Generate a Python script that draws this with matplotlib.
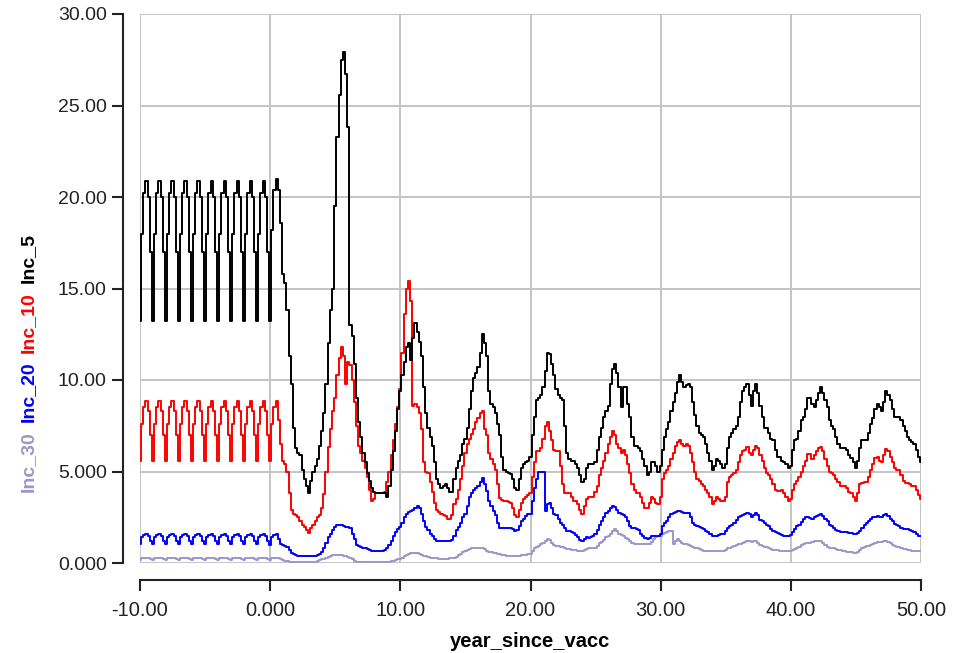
import numpy as np
import matplotlib
matplotlib.use('Agg')
import matplotlib.pyplot as plt
from matplotlib.ticker import FuncFormatter

plt.rcParams['font.family'] = ['Liberation Sans', 'DejaVu Sans']

# time axis: 6 samples per year from -10 to 50
years = np.arange(-60, 301) / 6.0

# Inc_5 (black), one row per year, values read at 1/6-year steps
inc_5_rows = [
    [13.2, 18.0, 20.2, 20.9, 20.0, 17.0],  # -10
    [13.2, 18.0, 20.2, 20.9, 20.0, 17.0],
    [13.2, 18.0, 20.2, 20.9, 20.0, 17.0],
    [13.2, 18.0, 20.2, 20.9, 20.0, 17.0],
    [13.2, 18.0, 20.2, 20.9, 20.0, 17.0],
    [13.2, 18.0, 20.2, 20.9, 20.0, 17.0],
    [13.2, 18.0, 20.2, 20.9, 20.0, 17.0],
    [13.2, 18.0, 20.2, 20.9, 20.0, 17.0],
    [13.2, 18.0, 20.2, 20.9, 20.0, 17.0],
    [13.2, 18.0, 20.2, 20.9, 20.0, 17.0],  # -1
    [13.2, 18.2, 20.4, 21.0, 20.4, 18.6],  # 0
    [15.8, 15.3, 13.8, 11.3, 9.8, 7.4],
    [6.3, 6.0, 5.9, 5.1, 4.6, 4.2],
    [3.8, 4.5, 5.0, 5.3, 5.7, 6.4],
    [7.2, 8.2, 9.8, 12.0, 13.8, 15.0],
    [19.5, 23.3, 25.6, 27.5, 27.9, 26.7],  # 5
    [23.8, 13.0, 12.4, 10.9, 9.0, 7.7],
    [6.9, 6.0, 5.5, 4.9, 4.5, 4.1],
    [3.9, 3.8, 3.8, 3.8, 3.8, 3.8],
    [3.6, 4.2, 5.1, 6.1, 7.2, 8.4],
    [9.4, 10.3, 11.0, 11.8, 12.0, 11.1],  # 10
    [12.3, 13.1, 12.6, 12.1, 11.3, 9.6],
    [8.2, 7.4, 6.9, 6.4, 5.5, 4.6],
    [4.3, 4.1, 4.2, 4.3, 4.1, 3.9],
    [3.9, 4.6, 5.2, 5.6, 5.9, 6.5],
    [6.8, 7.4, 8.4, 9.4, 10.1, 10.4],  # 15
    [10.7, 11.5, 12.5, 12.0, 11.3, 9.4],
    [8.7, 8.5, 8.2, 7.6, 7.0, 5.8],
    [5.1, 5.0, 4.9, 4.85, 4.6, 4.1],
    [4.0, 4.6, 5.2, 5.4, 5.5, 5.6],
    [5.8, 7.0, 8.0, 8.9, 9.0, 9.2],  # 20
    [9.6, 10.5, 11.5, 11.4, 10.9, 10.3],
    [9.5, 9.2, 9.0, 8.9, 7.5, 6.0],
    [5.7, 5.6, 5.6, 5.4, 5.2, 4.8],
    [4.4, 4.6, 5.2, 5.4, 5.4, 5.4],
    [5.5, 6.2, 6.9, 7.4, 8.0, 8.3],  # 25
    [8.6, 9.8, 10.6, 10.9, 10.4, 9.6],
    [8.5, 9.6, 9.6, 8.7, 8.0, 6.9],
    [6.4, 6.4, 6.3, 6.1, 5.7, 5.3],
    [4.8, 5.0, 5.5, 5.5, 5.3, 5.0],
    [5.3, 6.2, 6.9, 7.3, 7.7, 8.3],  # 30
    [8.8, 9.3, 9.9, 10.3, 9.9, 9.6],
    [9.7, 9.8, 9.6, 8.8, 8.1, 7.5],
    [7.1, 7.0, 6.9, 6.5, 6.0, 5.6],
    [5.1, 5.3, 5.7, 5.6, 5.4, 5.2],
    [5.4, 6.3, 6.9, 7.1, 7.3, 7.5],  # 35
    [8.0, 8.8, 9.4, 9.6, 9.8, 9.2],
    [8.6, 9.4, 9.8, 9.3, 8.6, 8.0],
    [7.4, 7.4, 7.1, 6.8, 6.7, 6.2],
    [5.8, 5.8, 5.6, 5.5, 5.4, 5.2],
    [5.3, 6.2, 6.7, 6.8, 7.2, 7.8],  # 40
    [8.0, 8.4, 9.0, 9.0, 8.7, 8.5],
    [8.9, 9.3, 9.6, 9.3, 8.9, 8.5],
    [7.8, 7.5, 7.3, 6.9, 6.5, 6.3],
    [6.3, 6.3, 6.2, 5.9, 5.75, 5.5],
    [5.2, 5.6, 6.3, 6.7, 6.7, 6.7],  # 45
    [7.1, 7.6, 7.9, 8.4, 8.7, 8.5],
    [8.3, 8.8, 9.4, 9.2, 8.9, 8.4],
    [8.0, 8.0, 8.0, 7.8, 7.5, 7.2],
    [6.9, 6.7, 6.6, 6.5, 6.2, 5.8],
    [5.5],  # 50
]

# Inc_10 (red)
inc_10_rows = [
    [5.6, 7.6, 8.5, 8.85, 8.3, 7.0],  # -10
    [5.6, 7.6, 8.5, 8.85, 8.3, 7.0],
    [5.6, 7.6, 8.5, 8.85, 8.3, 7.0],
    [5.6, 7.6, 8.5, 8.85, 8.3, 7.0],
    [5.6, 7.6, 8.5, 8.85, 8.3, 7.0],
    [5.6, 7.6, 8.5, 8.85, 8.3, 7.0],
    [5.6, 7.6, 8.5, 8.85, 8.3, 7.0],
    [5.6, 7.6, 8.5, 8.85, 8.3, 7.0],
    [5.6, 7.6, 8.5, 8.85, 8.3, 7.0],
    [5.6, 7.6, 8.5, 8.85, 8.3, 7.0],  # -1
    [5.6, 7.6, 8.5, 8.85, 7.8, 6.5],  # 0
    [5.6, 5.4, 5.0, 3.8, 2.9, 2.7],
    [2.6, 2.5, 2.3, 2.1, 1.95, 1.8],
    [1.66, 1.9, 2.1, 2.3, 2.5, 2.6],
    [3.0, 3.75, 5.0, 6.35, 7.3, 8.3],
    [9.0, 10.3, 11.2, 11.8, 11.3, 9.8],  # 5
    [11.0, 10.8, 10.0, 8.8, 7.5, 6.4],
    [6.0, 5.6, 5.2, 4.7, 4.0, 3.4],
    [3.5, 3.8, 3.8, 3.8, 3.8, 3.9],
    [4.4, 5.0, 5.9, 6.7, 7.6, 8.5],
    [9.5, 11.5, 13.6, 15.0, 15.4, 14.3],  # 10
    [8.6, 8.7, 8.5, 8.2, 7.3, 5.5],
    [5.0, 4.9, 4.4, 3.9, 3.3, 2.9],
    [2.8, 2.7, 2.65, 2.55, 2.4, 2.4],
    [2.6, 3.2, 3.5, 4.0, 4.6, 5.3],
    [6.0, 6.5, 6.8, 7.05, 7.3, 7.7],  # 15
    [7.9, 8.2, 8.3, 7.3, 7.0, 6.0],
    [5.7, 5.4, 5.1, 4.3, 3.55, 3.45],
    [3.4, 3.4, 3.35, 3.3, 3.0, 2.6],
    [2.5, 2.9, 3.3, 3.5, 3.6, 3.7],
    [3.8, 4.7, 5.5, 6.1, 6.1, 6.3],  # 20
    [6.8, 7.5, 7.7, 7.2, 6.7, 6.2],
    [6.1, 6.1, 5.3, 4.3, 3.8, 3.8],
    [3.8, 3.6, 3.4, 3.4, 3.2, 2.9],
    [2.7, 3.1, 3.5, 3.6, 3.6, 3.6],
    [3.9, 4.2, 4.8, 5.2, 5.6, 6.0],  # 25
    [6.5, 6.9, 7.2, 7.0, 6.5, 6.3],
    [6.0, 6.2, 5.9, 5.4, 4.9, 4.3],
    [4.0, 3.8, 3.8, 3.6, 3.3, 3.0],
    [3.0, 3.3, 3.6, 3.5, 3.3, 3.2],
    [3.6, 4.6, 4.9, 5.1, 5.3, 5.7],  # 30
    [6.0, 6.4, 6.6, 6.7, 6.5, 6.4],
    [6.5, 6.4, 6.0, 5.5, 5.0, 4.6],
    [4.5, 4.3, 4.2, 4.0, 3.8, 3.6],
    [3.2, 3.4, 3.6, 3.5, 3.4, 3.4],
    [3.6, 4.4, 4.7, 4.8, 4.9, 5.1],  # 35
    [5.5, 5.9, 6.1, 6.2, 6.35, 6.0],
    [5.9, 6.2, 6.4, 6.3, 5.9, 5.6],
    [5.2, 4.9, 4.8, 4.6, 4.3, 4.0],
    [3.95, 3.95, 4.0, 3.8, 3.6, 3.4],
    [3.5, 4.0, 4.3, 4.5, 4.7, 5.0],  # 40
    [5.3, 5.6, 5.95, 5.95, 5.7, 5.9],
    [6.1, 6.3, 6.35, 6.1, 5.7, 5.3],
    [5.0, 4.9, 4.8, 4.6, 4.4, 4.2],
    [4.2, 4.2, 4.1, 3.9, 3.8, 3.6],
    [3.4, 3.8, 4.3, 4.35, 4.4, 4.4],  # 45
    [4.7, 5.1, 5.4, 5.75, 5.8, 5.6],
    [5.5, 5.9, 6.25, 6.1, 5.8, 5.5],
    [5.2, 5.1, 5.1, 4.8, 4.5, 4.35],
    [4.35, 4.3, 4.2, 4.2, 4.0, 3.7],
    [3.5],  # 50
]

# Inc_20 (blue)
inc_20_rows = [
    [1.02, 1.4, 1.55, 1.6, 1.45, 1.2],  # -10
    [1.02, 1.4, 1.55, 1.6, 1.45, 1.2],
    [1.02, 1.4, 1.55, 1.6, 1.45, 1.2],
    [1.02, 1.4, 1.55, 1.6, 1.45, 1.2],
    [1.02, 1.4, 1.55, 1.6, 1.45, 1.2],
    [1.02, 1.4, 1.55, 1.6, 1.45, 1.2],
    [1.02, 1.4, 1.55, 1.6, 1.45, 1.2],
    [1.02, 1.4, 1.55, 1.6, 1.45, 1.2],
    [1.02, 1.4, 1.55, 1.6, 1.45, 1.2],
    [1.02, 1.4, 1.55, 1.6, 1.45, 1.2],  # -1
    [1.0, 1.4, 1.55, 1.57, 1.3, 1.05],  # 0
    [1.0, 0.95, 0.85, 0.7, 0.55, 0.48],
    [0.42, 0.4, 0.38, 0.38, 0.38, 0.38],
    [0.38, 0.38, 0.38, 0.4, 0.45, 0.48],
    [0.6, 0.84, 1.1, 1.4, 1.6, 1.8],
    [1.95, 2.05, 2.1, 2.1, 2.0, 1.95],  # 5
    [1.95, 1.9, 1.6, 1.3, 1.0, 0.95],
    [0.9, 0.84, 0.8, 0.75, 0.7, 0.66],
    [0.66, 0.66, 0.66, 0.66, 0.66, 0.7],
    [0.8, 1.0, 1.2, 1.45, 1.7, 1.85],
    [1.95, 2.2, 2.5, 2.7, 2.8, 2.85],  # 10
    [2.9, 3.0, 3.1, 3.0, 2.7, 2.3],
    [1.95, 1.8, 1.6, 1.5, 1.3, 1.2],
    [1.2, 1.2, 1.2, 1.2, 1.2, 1.2],
    [1.25, 1.5, 1.8, 1.95, 2.2, 2.5],
    [2.7, 3.1, 3.6, 3.8, 4.0, 4.1],  # 15
    [4.2, 4.4, 4.65, 4.3, 3.95, 3.4],
    [3.1, 2.85, 2.6, 2.2, 1.93, 1.9],
    [1.93, 1.93, 1.93, 1.9, 1.85, 1.75],
    [1.8, 2.0, 2.3, 2.4, 2.55, 2.66],
    [2.7, 3.4, 4.1, 4.6, 5.0, 5.0],  # 20
    [5.0, 2.85, 3.2, 3.3, 3.0, 2.7],
    [2.6, 2.4, 2.2, 2.1, 1.9, 1.75],
    [1.75, 1.7, 1.65, 1.55, 1.4, 1.25],
    [1.2, 1.3, 1.4, 1.35, 1.4, 1.5],
    [1.6, 1.8, 2.1, 2.3, 2.5, 2.75],  # 25
    [2.85, 3.0, 3.1, 3.05, 2.9, 2.75],
    [2.7, 2.6, 2.5, 2.3, 2.0, 1.93],
    [1.9, 1.85, 1.8, 1.6, 1.45, 1.35],
    [1.3, 1.35, 1.45, 1.45, 1.45, 1.45],
    [1.6, 2.0, 2.2, 2.3, 2.5, 2.7],  # 30
    [2.75, 2.8, 2.85, 2.85, 2.8, 2.75],
    [2.75, 2.75, 2.5, 2.2, 2.1, 2.0],
    [1.95, 1.9, 1.85, 1.75, 1.7, 1.6],
    [1.5, 1.48, 1.5, 1.55, 1.6, 1.6],
    [1.75, 1.93, 2.0, 2.1, 2.2, 2.35],  # 35
    [2.5, 2.55, 2.6, 2.7, 2.75, 2.7],
    [2.5, 2.65, 2.75, 2.6, 2.35, 2.3],
    [2.2, 2.1, 2.0, 1.85, 1.75, 1.7],
    [1.65, 1.6, 1.55, 1.5, 1.5, 1.48],
    [1.55, 1.7, 1.85, 2.0, 2.1, 2.25],  # 40
    [2.4, 2.5, 2.5, 2.45, 2.4, 2.5],
    [2.55, 2.62, 2.66, 2.55, 2.4, 2.3],
    [2.1, 2.0, 1.9, 1.8, 1.75, 1.7],
    [1.7, 1.7, 1.7, 1.65, 1.62, 1.6],
    [1.57, 1.65, 1.75, 1.9, 2.1, 2.2],  # 45
    [2.3, 2.4, 2.5, 2.5, 2.55, 2.5],
    [2.5, 2.6, 2.66, 2.55, 2.4, 2.3],
    [2.15, 2.1, 2.0, 1.9, 1.85, 1.84],
    [1.84, 1.8, 1.75, 1.7, 1.6, 1.5],
    [1.48],  # 50
]

# Inc_30 (light purple)
inc_30_rows = [
    [0.17, 0.28, 0.3, 0.3, 0.27, 0.22],  # -10
    [0.17, 0.28, 0.3, 0.3, 0.27, 0.22],
    [0.17, 0.28, 0.3, 0.3, 0.27, 0.22],
    [0.17, 0.28, 0.3, 0.3, 0.27, 0.22],
    [0.17, 0.28, 0.3, 0.3, 0.27, 0.22],
    [0.17, 0.28, 0.3, 0.3, 0.27, 0.22],
    [0.17, 0.28, 0.3, 0.3, 0.27, 0.22],
    [0.17, 0.28, 0.3, 0.3, 0.27, 0.22],
    [0.17, 0.28, 0.3, 0.3, 0.27, 0.22],
    [0.17, 0.28, 0.3, 0.3, 0.27, 0.22],  # -1
    [0.18, 0.28, 0.3, 0.3, 0.26, 0.2],  # 0
    [0.15, 0.11, 0.1, 0.08, 0.06, 0.05],
    [0.04, 0.03, 0.03, 0.03, 0.03, 0.03],
    [0.03, 0.03, 0.05, 0.08, 0.1, 0.15],
    [0.2, 0.24, 0.28, 0.32, 0.38, 0.42],
    [0.44, 0.44, 0.44, 0.42, 0.4, 0.38],  # 5
    [0.35, 0.3, 0.2, 0.11, 0.08, 0.06],
    [0.05, 0.05, 0.05, 0.05, 0.05, 0.05],
    [0.05, 0.05, 0.05, 0.05, 0.05, 0.05],
    [0.06, 0.08, 0.1, 0.13, 0.16, 0.2],
    [0.2, 0.28, 0.36, 0.44, 0.5, 0.53],  # 10
    [0.56, 0.56, 0.55, 0.5, 0.45, 0.4],
    [0.36, 0.33, 0.3, 0.29, 0.27, 0.25],
    [0.2, 0.2, 0.2, 0.2, 0.22, 0.25],
    [0.28, 0.3, 0.35, 0.42, 0.5, 0.58],
    [0.64, 0.7, 0.75, 0.8, 0.82, 0.84],  # 15
    [0.84, 0.84, 0.82, 0.75, 0.65, 0.6],
    [0.58, 0.55, 0.52, 0.5, 0.48, 0.45],
    [0.42, 0.4, 0.38, 0.38, 0.38, 0.38],
    [0.38, 0.4, 0.42, 0.44, 0.46, 0.48],
    [0.5, 0.65, 0.84, 0.88, 0.95, 1.05],  # 20
    [1.1, 1.2, 1.3, 1.25, 1.1, 1.0],
    [0.95, 0.93, 0.9, 0.85, 0.8, 0.78],
    [0.75, 0.73, 0.72, 0.7, 0.68, 0.66],
    [0.66, 0.7, 0.75, 0.8, 0.84, 0.84],
    [0.84, 0.95, 1.1, 1.15, 1.25, 1.4],  # 25
    [1.5, 1.6, 1.75, 1.84, 1.75, 1.6],
    [1.55, 1.45, 1.38, 1.3, 1.2, 1.1],
    [1.05, 1.02, 1.02, 1.02, 1.02, 1.02],
    [1.02, 1.05, 1.15, 1.3, 1.4, 1.5],
    [1.5, 1.57, 1.65, 1.7, 1.75, 1.75],  # 30
    [1.02, 1.2, 1.3, 1.2, 1.1, 1.02],
    [1.02, 1.0, 0.95, 0.9, 0.84, 0.8],
    [0.75, 0.7, 0.66, 0.66, 0.66, 0.66],
    [0.66, 0.66, 0.66, 0.66, 0.66, 0.66],
    [0.7, 0.8, 0.84, 0.9, 0.95, 1.0],  # 35
    [1.02, 1.05, 1.1, 1.15, 1.2, 1.2],
    [1.15, 1.2, 1.2, 1.1, 1.0, 0.95],
    [0.9, 0.85, 0.8, 0.75, 0.72, 0.7],
    [0.7, 0.68, 0.66, 0.66, 0.66, 0.66],
    [0.66, 0.7, 0.75, 0.84, 0.9, 1.0],  # 40
    [1.05, 1.1, 1.1, 1.1, 1.15, 1.2],
    [1.2, 1.2, 1.2, 1.1, 1.0, 0.9],
    [0.84, 0.8, 0.8, 0.75, 0.72, 0.7],
    [0.68, 0.65, 0.62, 0.6, 0.58, 0.56],
    [0.56, 0.6, 0.7, 0.8, 0.9, 0.93],  # 45
    [0.95, 1.0, 1.05, 1.1, 1.15, 1.15],
    [1.15, 1.2, 1.2, 1.15, 1.1, 1.0],
    [0.95, 0.9, 0.85, 0.8, 0.75, 0.75],
    [0.72, 0.7, 0.68, 0.66, 0.66, 0.66],
    [0.66],  # 50
]

series_names = ['Inc_30', 'Inc_20', 'Inc_10', 'Inc_5']
series_colors = ['#9b97c9', '#0000ff', '#ff0000', '#000000']
series_rows = [inc_30_rows, inc_20_rows, inc_10_rows, inc_5_rows]

x_ticks = [-10, 0, 10, 20, 30, 40, 50]
y_ticks = [0, 5, 10, 15, 20, 25, 30]


def fmt4(v, pos=None):
    # 4 significant digits, like the original axis labels
    if abs(v) < 10:
        return '%.3f' % v
    return '%.2f' % v


fig = plt.figure(figsize=(9.55, 6.53), dpi=100)
ax = fig.add_axes([140 / 955, 1 - 563 / 653, (921 - 140) / 955, (563 - 14) / 653])

for name, col, rows in zip(series_names, series_colors, series_rows):
    vals = np.concatenate([np.array(r, dtype=float) for r in rows])
    ax.plot(years, vals, color=col, lw=1.4, drawstyle='steps-mid', label=name)

ax.set_xlim(-10, 50)
ax.set_ylim(0, 30)
ax.set_xticks(x_ticks)
ax.set_yticks(y_ticks)
ax.xaxis.set_major_formatter(FuncFormatter(fmt4))
ax.yaxis.set_major_formatter(FuncFormatter(fmt4))
ax.grid(True, color='#c4c4c4', lw=1.4)
ax.set_axisbelow(True)

for side in ['top', 'right']:
    ax.spines[side].set_visible(False)
for side in ['left', 'bottom']:
    ax.spines[side].set_position(('outward', 12))
    ax.spines[side].set_color('#222222')
    ax.spines[side].set_linewidth(1.5)

ax.tick_params(axis='both', direction='out', length=8, width=1.5, color='#222222',
               labelcolor='#222222')
ax.tick_params(axis='y', labelsize=14, pad=4)
ax.tick_params(axis='x', labelsize=14.5, pad=7)

ax.set_xlabel('year_since_vacc', fontsize=14.5, fontweight='bold', labelpad=9)

# multi-coloured y label, stacked bottom to top
fig.canvas.draw()
renderer = fig.canvas.get_renderer()
y_px = 653 - 492
for name, col in zip(series_names, series_colors):
    t = fig.text(28 / 955, y_px / 653, name, rotation=90, ha='center', va='bottom',
                 color=col, fontsize=14, fontweight='bold')
    bb = t.get_window_extent(renderer=renderer)
    y_px = bb.y1 + 9

fig.savefig('out.png', dpi=100)
